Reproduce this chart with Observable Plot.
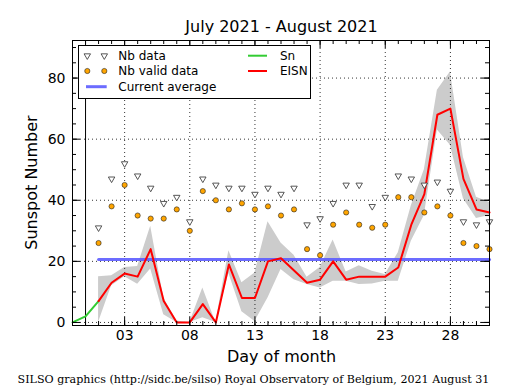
<!DOCTYPE html>
<html><head><meta charset="utf-8">
<script src="https://cdn.jsdelivr.net/npm/d3@7"></script>
<script src="https://cdn.jsdelivr.net/npm/@observablehq/plot@0.6"></script>
<style>body{margin:0;background:#fff} #chart{width:515px;height:390px}</style>
</head><body><div id="chart"></div>
<script>
// ---- data ----
const days = [1,2,3,4,5,6,7,8,9,10,11,12,13,14,15,16,17,18,19,20,21,22,23,24,25,26,27,28,29,30,31];
const nbData = [31,47,52,48,44,39,41,33,47,45, 44,44,42,44,42,44,32,34,39,45,45, 38,41,48,47,45,46,43,33,32,33];
const nbValid = [26,38,45,35,34,34,37,30,43,40, 37,39,37,38,35,37,24,22,32,36,32, 31,32,41,41,36,38,35,26,25,24];
const eisn = [7,13,16,15,24,7,0,0,6,0, 19,8,8,20,21,17,13,14,20,14,15, 15,15,18,32,42,68,70,47,37,36];
const bandLow = [0,12,15,12.5,17.5,2.5,0,0,1.5,0, 16,3.5,0.3,8,17.3,14,12.4,11.3,13.5,13.5,12.4, 12.6,13.5,13.5,26.6,35,63,58,40.5,34,35];
const bandHigh = [15,15.3,18,18.3,31.5,8,0.5,0,11.3,0, 23.5,13,16.2,33,26,22,14.8,18,27,16.5,18.6, 16.8,15.7,22.8,38.2,50,76,82,54,41,39.3];
const snDays = [-1, 0, 1];
const snValues = [0, 2, 7];
const currentAverage = 20.6;
const xMajor = [3,8,13,18,23,28];
const xLabels = ["03","08","13","18","23","28"];
const yMajor = [0,20,40,60,80];
const titleText = "July 2021 - August 2021";
const xTitle = "Day of month";
const yTitle = "Sunspot Number";
const captionText = "SILSO graphics (http://sidc.be/silso) Royal Observatory of Belgium, 2021 August 31";

const data = days.map((d,i)=>({day:d, nb:nbData[i], valid:nbValid[i], eisn:eisn[i], lo:bandLow[i], hi:bandHigh[i]}));
const snData = snDays.map((d,i)=>({day:d, sn:snValues[i]}));
const avgData = [{day: days[0], v: currentAverage}, {day: days[days.length-1], v: currentAverage}];
const xMinor = d3.range(0, 31);
const yMinor = d3.range(0, 93, 5);

const W=515, H=390, mL=72, mR=26, mT=40, mB=65;
const pw = W-mL-mR, ph = H-mT-mB;

const triDown = {draw(ctx, size){
  const y = Math.sqrt(size/(3*Math.sqrt(3))); const x = Math.sqrt(3)*y;
  ctx.moveTo(0, 2*y); ctx.lineTo(-x, -y); ctx.lineTo(x, -y); ctx.closePath();
}};
const dotted = {stroke:"#000", strokeWidth:0.8, strokeDasharray:"1,3"};

const plot = Plot.plot({
  width: W, height: H, marginLeft: mL, marginRight: mR, marginTop: mT, marginBottom: mB,
  style: {fontFamily: "DejaVu Sans", fontSize: "14px", color: "#000", background: "#fff"},
  x: {domain: [-1, 31], axis: null},
  y: {domain: [-1, 92.3], axis: null},
  marks: [
    Plot.areaY(data, {x:"day", y1:"lo", y2:"hi", fill:"#cccccc"}),
    Plot.ruleX(xMajor, dotted),
    Plot.ruleY(yMajor, dotted),
    Plot.ruleX([0], {stroke:"#000", strokeWidth:1}),
    Plot.lineY(avgData, {x:"day", y:"v", stroke:"#5c5cff", strokeOpacity:0.9, strokeWidth:3}),
    Plot.lineY(snData, {x:"day", y:"sn", stroke:"#33cc33", strokeWidth:2}),
    Plot.lineY(data, {x:"day", y:"eisn", stroke:"#ff0000", strokeWidth:2}),
    Plot.dot(data, {x:"day", y:"nb", symbol: triDown, r:2.4, fill:"#fff", stroke:"#444", strokeWidth:0.9}),
    Plot.dot(data, {x:"day", y:"valid", r:2.6, fill:"#ffa500", stroke:"#222", strokeWidth:0.6}),
    Plot.tickX(xMinor, {insetTop: ph-4, stroke:"#000"}),
    Plot.tickX(xMinor, {insetBottom: ph-4, stroke:"#000"}),
    Plot.tickX(xMajor, {insetTop: ph-8, stroke:"#000"}),
    Plot.tickX(xMajor, {insetBottom: ph-8, stroke:"#000"}),
    Plot.tickY(yMinor, {insetRight: pw-4, stroke:"#000"}),
    Plot.tickY(yMinor, {insetLeft: pw-4, stroke:"#000"}),
    Plot.tickY(yMajor, {insetRight: pw-8, stroke:"#000"}),
    Plot.tickY(yMajor, {insetLeft: pw-8, stroke:"#000"}),
    Plot.frame({stroke:"#000", strokeWidth:1}),
    Plot.axisX(xMajor, {tickFormat: d => xLabels[xMajor.indexOf(d)], tickSize:0, tickPadding:5, fontSize:14, label:null}),
    Plot.axisY(yMajor, {tickSize:0, tickPadding:7, fontSize:14, label:null})
  ]
});
document.getElementById("chart").appendChild(plot);

const svg = d3.select(plot);
const cx = mL + pw/2;
const addText = (x, y, t, size, family, anchor) => svg.append("text").attr("x", x).attr("y", y)
  .attr("text-anchor", anchor).attr("font-family", family).attr("font-size", size).attr("fill", "#000").text(t);
addText(cx+1, 32, titleText, 16, "DejaVu Sans", "middle");
addText(cx+1, 362, xTitle, 16, "DejaVu Sans", "middle");
addText(0, 0, yTitle, 16, "DejaVu Sans", "middle").attr("transform", `translate(37,${mT+ph/2}) rotate(-90)`);
addText(253.5, 383, captionText, 11.1, "DejaVu Serif", "middle");

// legend
const lg = svg.append("g").attr("font-family","DejaVu Sans").attr("font-size",12).attr("text-anchor","start");
lg.append("rect").attr("x",78.5).attr("y",45.5).attr("width",232).attr("height",53)
  .attr("fill","#fff").attr("stroke","#000").attr("stroke-width",1);
const rows = [55.7, 71, 86.7];
const triPath = d3.symbol(triDown, 2.4*2.4*Math.PI)();
[87.3, 104.3].forEach(x=>{
  lg.append("path").attr("d", triPath).attr("transform",`translate(${x},${rows[0]})`)
    .attr("fill","#fff").attr("stroke","#444").attr("stroke-width",0.9);
  lg.append("circle").attr("cx",x).attr("cy",rows[1]).attr("r",2.6)
    .attr("fill","#ffa500").attr("stroke","#222").attr("stroke-width",0.6);
});
lg.append("line").attr("x1",86).attr("x2",106.7).attr("y1",rows[2]).attr("y2",rows[2])
  .attr("stroke","#5c5cff").attr("stroke-opacity",0.9).attr("stroke-width",3);
lg.append("line").attr("x1",248).attr("x2",267).attr("y1",rows[0]).attr("y2",rows[0])
  .attr("stroke","#33cc33").attr("stroke-width",2);
lg.append("line").attr("x1",248).attr("x2",267).attr("y1",rows[1]).attr("y2",rows[1])
  .attr("stroke","#ff0000").attr("stroke-width",2);
const lab = (x,y,t)=>lg.append("text").attr("x",x).attr("y",y).attr("dy","0.36em")
  .attr("text-anchor","start").attr("fill","#000").text(t);
lab(118.3, rows[0], "Nb data");
lab(118.3, rows[1], "Nb valid data");
lab(118.3, rows[2], "Current average");
lab(280, rows[0], "Sn");
lab(280, rows[1], "EISN");
</script>
</body></html>
